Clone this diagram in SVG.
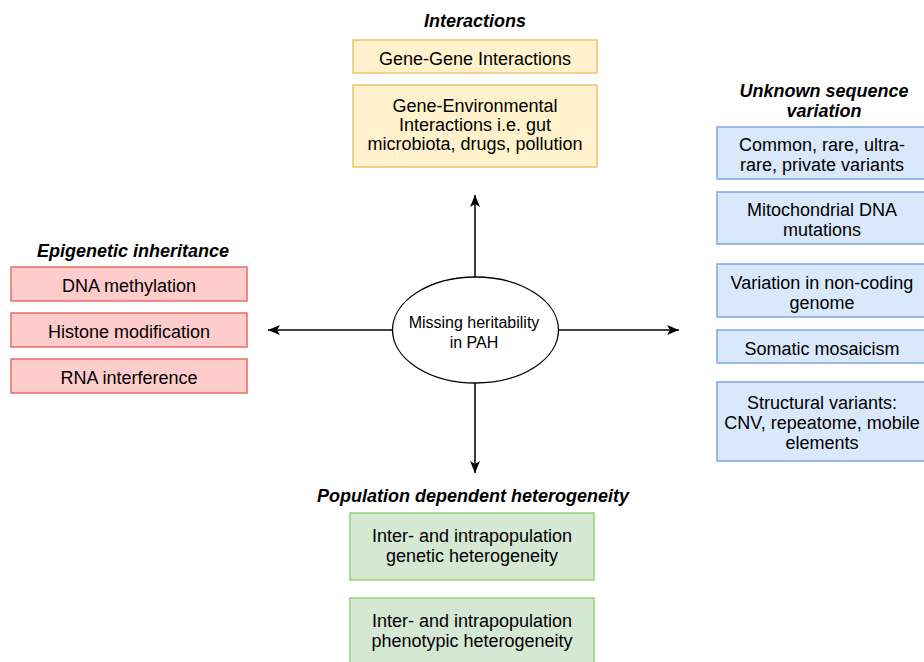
<svg xmlns="http://www.w3.org/2000/svg" width="924" height="662" viewBox="0 0 924 662">
<style>
  text { font-family: "Liberation Sans", Arial, sans-serif; font-size: 18px; fill: #000; text-anchor: middle; }
  .title { font-weight: bold; font-style: italic; }
  .yellow { fill: #fff2cc; stroke: #f0c36d; stroke-width: 1.5; }
  .red { fill: #ffcccc; stroke: #ea6b66; stroke-width: 1.5; }
  .blue { fill: #dae8fc; stroke: #7ea6e0; stroke-width: 1.5; }
  .green { fill: #d5e8d4; stroke: #97d077; stroke-width: 1.5; }
  .conn { stroke: #000; stroke-width: 1.5; fill: none; marker-end: url(#arrow); }
  .center { fill: #fff; stroke: #000; stroke-width: 1.3; }
  .ctext { font-size: 16px; }
</style>
<defs>
  <marker id="arrow" markerUnits="userSpaceOnUse" markerWidth="13" markerHeight="11" refX="12" refY="5" orient="auto">
    <path d="M0,0 L12,5 L0,10 L3,5 z" fill="#000"/>
  </marker>
</defs>
<rect width="924" height="662" fill="#fff"/>

<g id="connectors">
  <line class="conn" x1="475" y1="277" x2="475" y2="195"/>
  <line class="conn" x1="475" y1="383" x2="475" y2="473"/>
  <line class="conn" x1="392" y1="330" x2="268" y2="330"/>
  <line class="conn" x1="559" y1="330" x2="679" y2="330"/>
</g>

<g id="center">
  <ellipse class="center" cx="475.5" cy="330" rx="83" ry="53"/>
  <text class="ctext" x="474" y="328">Missing heritability</text>
  <text class="ctext" x="474" y="348">in PAH</text>
</g>

<g id="interactions">
  <text class="title" x="475" y="27">Interactions</text>
  <g id="gene-gene">
    <rect class="yellow" x="353" y="40" width="244" height="33"/>
    <text x="475" y="65">Gene-Gene Interactions</text>
  </g>
  <g id="gene-env">
    <rect class="yellow" x="353" y="85" width="244" height="82"/>
    <text x="475" y="112">Gene-Environmental</text>
    <text x="475" y="131">Interactions i.e. gut</text>
    <text x="475" y="150">microbiota, drugs, pollution</text>
  </g>
</g>

<g id="epigenetic">
  <text class="title" x="133" y="257">Epigenetic inheritance</text>
  <g id="dna-methylation">
    <rect class="red" x="11" y="267" width="236" height="34"/>
    <text x="129" y="292">DNA methylation</text>
  </g>
  <g id="histone">
    <rect class="red" x="11" y="313" width="236" height="34"/>
    <text x="129" y="338">Histone modification</text>
  </g>
  <g id="rna">
    <rect class="red" x="11" y="359" width="236" height="34"/>
    <text x="129" y="384">RNA interference</text>
  </g>
</g>

<g id="unknown">
  <text class="title" x="824" y="97">Unknown sequence</text>
  <text class="title" x="824" y="117">variation</text>
  <g id="common">
    <rect class="blue" x="717" y="127" width="212" height="52"/>
    <text x="822" y="151">Common, rare, ultra-</text>
    <text x="822" y="171">rare, private variants</text>
  </g>
  <g id="mito">
    <rect class="blue" x="717" y="192" width="212" height="52"/>
    <text x="822" y="216">Mitochondrial DNA</text>
    <text x="822" y="236">mutations</text>
  </g>
  <g id="noncoding">
    <rect class="blue" x="717" y="264" width="212" height="53"/>
    <text x="822" y="289">Variation in non-coding</text>
    <text x="822" y="309">genome</text>
  </g>
  <g id="somatic">
    <rect class="blue" x="717" y="330" width="212" height="33"/>
    <text x="822" y="355">Somatic mosaicism</text>
  </g>
  <g id="structural">
    <rect class="blue" x="717" y="382" width="212" height="79"/>
    <text x="822" y="409">Structural variants:</text>
    <text x="822" y="429">CNV, repeatome, mobile</text>
    <text x="822" y="449">elements</text>
  </g>
</g>

<g id="population">
  <text class="title" x="473" y="502">Population dependent heterogeneity</text>
  <g id="genetic-het">
    <rect class="green" x="350" y="513" width="244" height="67"/>
    <text x="472" y="542">Inter- and intrapopulation</text>
    <text x="472" y="562">genetic heterogeneity</text>
  </g>
  <g id="pheno-het">
    <rect class="green" x="350" y="598" width="244" height="67"/>
    <text x="472" y="627">Inter- and intrapopulation</text>
    <text x="472" y="647">phenotypic heterogeneity</text>
  </g>
</g>
</svg>
